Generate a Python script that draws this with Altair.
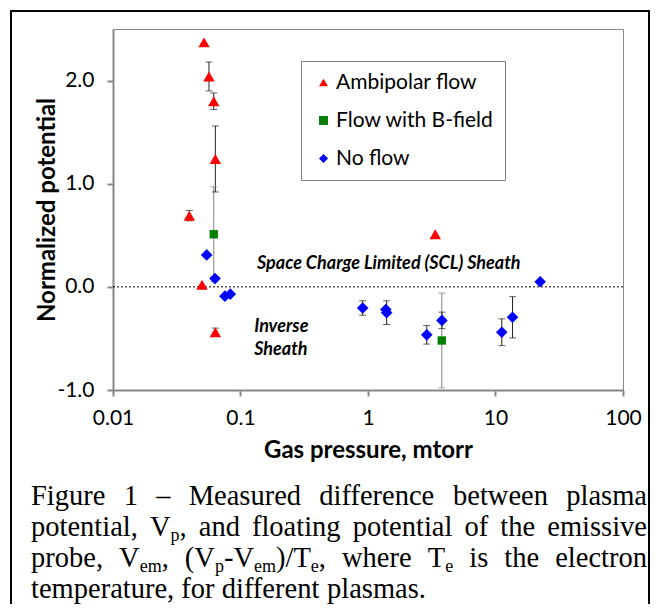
import altair as alt
import pandas as pd

# ---------------- data ----------------
series_names = ["Ambipolar flow", "Flow with B-field", "No flow"]
series_colors = ["#FF0000", "#008000", "#0000FF"]
series_shapes = ["triangle-up", "square", "M0,-1L1,0L0,1L-1,0Z"]
series_sizes = [130, 70, 135]
bar_colors = ["#222222", "#808080", "#222222"]

amb_x = [0.0518, 0.0566, 0.0617, 0.0635, 0.0397, 0.0499, 0.0635, 3.37]
amb_y = [2.37, 2.04, 1.80, 1.24, 0.69, 0.02, -0.44, 0.51]
amb_err = [0.0, 0.14, 0.08, 0.32, 0.05, 0.0, 0.04, 0.0]

bf_x = [0.0617, 3.79]
bf_y = [0.51, -0.52]
bf_err = [0.46, 0.46]

nf_x = [0.0543, 0.0631, 0.0755, 0.0832, 0.908, 1.38, 1.40, 2.89, 3.80, 11.2, 13.6, 22.4]
nf_y = [0.31, 0.08, -0.09, -0.07, -0.205, -0.22, -0.25, -0.465, -0.325, -0.44, -0.295, 0.05]
nf_err = [0.0, 0.0, 0.0, 0.0, 0.07, 0.0, 0.115, 0.09, 0.08, 0.13, 0.20, 0.0]

x_ticks = [0.01, 0.1, 1, 10, 100]
y_ticks = [-1, 0, 1, 2]

ann_text = ["Space Charge Limited (SCL) Sheath", "Inverse", "Sheath"]
ann_x = [0.1347, 0.128, 0.128]
ann_y = [0.175, -0.44, -0.665]

caption_lines = [
    "Figure 1 – Measured difference between plasma",
    "potential, V_{p}, and floating potential of the emissive",
    "probe, V_{em}, (V_{p}-V_{em})/T_{e}, where T_{e} is the electron",
    "temperature, for different plasmas.",
]
caption_justify = [True, True, True, False]

# ---------------- tables ----------------
rows = []
for name, xs, ys, es in [
    (series_names[0], amb_x, amb_y, amb_err),
    (series_names[1], bf_x, bf_y, bf_err),
    (series_names[2], nf_x, nf_y, nf_err),
]:
    for xv, yv, ev in zip(xs, ys, es):
        rows.append({"series": name, "x": xv, "y": yv, "err": ev,
                     "barc": bar_colors[series_names.index(name)]})
df = pd.DataFrame(rows)

ann_df = pd.DataFrame({"t": ann_text, "x": ann_x, "y": ann_y})

# caption layout (Times metrics, Liberation Serif is metric compatible)
W = {' ': 250, ',': 250, '.': 250, '-': 333, '–': 500, '(': 333, ')': 333, '/': 278,
     '1': 500, 'a': 444, 'b': 500, 'c': 444, 'd': 500, 'e': 444, 'f': 333, 'g': 500,
     'h': 500, 'i': 278, 'l': 278, 'm': 778, 'n': 500, 'o': 500, 'p': 500, 'r': 333,
     's': 389, 't': 278, 'u': 500, 'v': 500, 'w': 722, 'F': 556, 'M': 889, 'T': 611,
     'V': 722}
FS = 28.5
SUB_FS = 18
SUB_DY = 5
cap_left = -82
cap_right = 534
cap_base = [476, 507, 538, 569]


def parse_word(word):
    segs = []
    buf = ""
    i = 0
    while i < len(word):
        if word[i] == "_" and word[i + 1] == "{":
            if buf:
                segs.append((buf, False))
                buf = ""
            j = word.index("}", i)
            segs.append((word[i + 2:j], True))
            i = j + 1
        else:
            buf += word[i]
            i += 1
    if buf:
        segs.append((buf, False))
    return segs


def seg_w(text, sub):
    return sum(W.get(c, 500) for c in text) * (SUB_FS if sub else FS) / 1000.0


cap_rows = []
for line, just, base in zip(caption_lines, caption_justify, cap_base):
    words = [parse_word(w) for w in line.split(" ")]
    widths = [sum(seg_w(t, s) for t, s in w) for w in words]
    if just and len(words) > 1:
        gap = (cap_right - cap_left - sum(widths)) / (len(words) - 1)
    else:
        gap = W[' '] * FS / 1000.0
    xpos = cap_left
    for w, wd in zip(words, widths):
        xx = xpos
        for t, s in w:
            cap_rows.append({"t": t, "px": xx, "py": base + (SUB_DY if s else 0),
                             "sub": 1 if s else 0})
            xx += seg_w(t, s)
        xpos += wd + gap
cap_df = pd.DataFrame(cap_rows)

# ---------------- chart ----------------
XT = "Gas pressure, mtorr"
YT = "Normalized potential"
xscale = alt.Scale(type="log", domain=[0.01, 100])
yscale = alt.Scale(domain=[-1, 2.5], nice=False, zero=False)

x_axis = alt.Axis(values=x_ticks, format="~g", labelFontSize=21, labelPadding=11,
                  labelFlush=False, tickSize=6, titleFontSize=24, titleFontWeight="bold",
                  titleY=67, titleX=255, titleBaseline="alphabetic", grid=False)
y_axis = alt.Axis(values=y_ticks,
                  labelExpr="datum.value < 0 ? '-' + format(-datum.value, '.1f') : format(datum.value, '.1f')",
                  labelFontSize=21, labelPadding=13, tickSize=6, titleFontSize=24,
                  titleFontWeight="bold", titleX=-59, titleY=180.5, titleAngle=270,
                  titleBaseline="alphabetic", titleAlign="center", grid=False)

X = alt.X("x:Q", scale=xscale, axis=x_axis, title=XT)
Y = alt.Y("y:Q", scale=yscale, axis=y_axis, title=YT)

legend = alt.Legend(
    title=None, orient="none", legendX=188, legendY=32, padding=11,
    strokeColor="#7f7f7f", fillColor="white", labelFont="Lato", labelFontSize=21,
    labelColor="black", symbolSize=80, symbolOffset=1, labelOffset=2, rowPadding=16,
    symbolStrokeWidth=0,
)
C = alt.Color("series:N", scale=alt.Scale(domain=series_names, range=series_colors), legend=legend)
S = alt.Shape("series:N", scale=alt.Scale(domain=series_names, range=series_shapes), legend=legend)

border = alt.Chart(pd.DataFrame({"a": [0]})).mark_rect(
    fillOpacity=0, stroke="black", strokeWidth=2
).encode(x=alt.value(-102), x2=alt.value(536), y=alt.value(-18), y2=alt.value(700))

zero_line = alt.Chart(pd.DataFrame({"y": [0]})).mark_rule(
    color="black", strokeWidth=1, strokeDash=[2, 2]
).encode(y=Y)

errbase = alt.Chart(df).transform_filter("datum.err > 0").transform_calculate(
    lo="datum.y - datum.err", hi="datum.y + datum.err")
err_rule = errbase.mark_rule(strokeWidth=1).encode(
    x=X, y=alt.Y("lo:Q", title=YT), y2="hi:Q", stroke=alt.Stroke("barc:N", scale=None))
cap_lo = errbase.mark_tick(orient="horizontal", size=7, thickness=1).encode(
    x=X, y=alt.Y("lo:Q", title=YT), fill=alt.Fill("barc:N", scale=None))
cap_hi = errbase.mark_tick(orient="horizontal", size=7, thickness=1).encode(
    x=X, y=alt.Y("hi:Q", title=YT), fill=alt.Fill("barc:N", scale=None))

point_layers = []
for name, sz in zip(series_names, series_sizes):
    point_layers.append(
        alt.Chart(df).transform_filter(alt.datum.series == name)
        .mark_point(filled=True, opacity=1, size=sz)
        .encode(x=X, y=Y, color=C, shape=S)
    )

ann = alt.Chart(ann_df).mark_text(
    align="left", baseline="alphabetic", font="Lato", fontSize=18,
    fontWeight="bold", fontStyle="italic", color="black"
).encode(x=X, y=Y, text="t:N")

cap_main = alt.Chart(cap_df).transform_filter("datum.sub == 0").mark_text(
    align="left", baseline="alphabetic", font="Liberation Serif", fontSize=FS, color="black"
).encode(x=alt.X("px:Q", scale=None, axis=None), y=alt.Y("py:Q", scale=None, axis=None), text="t:N")
cap_sub = alt.Chart(cap_df).transform_filter("datum.sub == 1").mark_text(
    align="left", baseline="alphabetic", font="Liberation Serif", fontSize=SUB_FS, color="black"
).encode(x=alt.X("px:Q", scale=None, axis=None), y=alt.Y("py:Q", scale=None, axis=None), text="t:N")

chart = alt.layer(border, zero_line, err_rule, cap_lo, cap_hi, *point_layers, ann,
                  cap_main, cap_sub).properties(
    width=510, height=361,
    autosize=alt.AutoSizeParams(type="none"),
    padding={"left": 105, "top": 21, "right": 27, "bottom": 214},
).configure_view(
    stroke="#8a8a8a", strokeWidth=1
).configure_axis(
    domainColor="#868686", domainWidth=2, tickColor="#868686", tickWidth=2,
    labelColor="black", labelFont="Lato", titleFont="Lato", titleColor="black"
)

chart.save("out.html", embed_options={"renderer": "svg", "actions": False})
